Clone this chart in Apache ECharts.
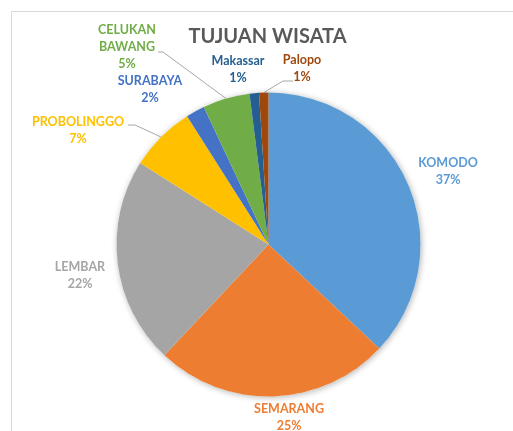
<!DOCTYPE html>
<html>
<head>
<meta charset="utf-8">
<script src="https://cdn.jsdelivr.net/npm/echarts@6/dist/echarts.min.js"></script>
<style>
  html, body { margin: 0; padding: 0; background: #fff; }
  #chart { width: 513px; height: 431px; }
</style>
</head>
<body>
<div id="chart"></div>
<script>
    // data
    var names = ['KOMODO', 'SEMARANG', 'LEMBAR', 'PROBOLINGGO', 'SURABAYA', 'CELUKAN\nBAWANG', 'Makassar', 'Palopo'];
    var values = [37, 25, 22, 7, 2, 5, 1, 1];
    var colors = ['#5B9BD5', '#ED7D31', '#A5A5A5', '#FFC000', '#4472C4', '#70AD47', '#255E91', '#9E480E'];

    // label centres (px) and leader line bends, like the excel layout
    var labelPos = [[448, 171], [289, 417], [80, 275], [78, 130], [150, 89], [127, 47], [238, 69], [302, 68]];
    var linePts = {
        3: [[135, 125], [128, 125]],
        5: [[163, 52], [158, 52]],
        7: [[283, 81], [293, 81]]
    };

    var pieCenter = [268.5, 244.5];
    var pieRadius = 152;

    var myChart = echarts.init(document.getElementById('chart'));

    var pieData = names.map(function (n, i) {
        return {
            name: n,
            value: values[i],
            itemStyle: { color: colors[i] },
            label: { color: colors[i] },
            labelLine: { show: !!linePts[i] }
        };
    });

    myChart.setOption({
        animation: false,
        graphic: [{
            type: 'polyline',
            shape: { points: [[11.5, 440], [11.5, 11.5], [520, 11.5]] },
            style: { stroke: '#D9D9D9', lineWidth: 1, fill: null }
        }, {
            type: 'text',
            x: 267.5,
            y: 37,
            style: {
                text: 'TUJUAN WISATA',
                fill: '#595959',
                font: 'bold 20px Lato',
                textAlign: 'center',
                textVerticalAlign: 'middle'
            }
        }],
        series: [{
            // soft shadow under the whole pie
            type: 'pie',
            silent: true,
            z: 1,
            center: pieCenter,
            radius: pieRadius,
            label: { show: false },
            labelLine: { show: false },
            itemStyle: {
                color: '#fff',
                shadowBlur: 6,
                shadowColor: 'rgba(0,0,0,0.3)',
                shadowOffsetX: 1,
                shadowOffsetY: 1
            },
            data: [1]
        }, {
            type: 'pie',
            z: 2,
            center: pieCenter,
            radius: pieRadius,
            startAngle: 90,
            avoidLabelOverlap: false,
            label: {
                show: true,
                position: 'outside',
                fontFamily: 'Lato',
                fontWeight: 'bold',
                fontSize: 12.5,
                lineHeight: 17,
                align: 'center',
                formatter: function (p) {
                    return p.name + '\n' + p.value + '%';
                }
            },
            labelLine: {
                lineStyle: { color: '#A6A6A6', width: 1 }
            },
            labelLayout: function (params) {
                var i = params.dataIndex;
                var res = {
                    x: labelPos[i][0],
                    y: labelPos[i][1],
                    align: 'center',
                    verticalAlign: 'middle'
                };
                if (linePts[i] && params.labelLinePoints) {
                    res.labelLinePoints = [params.labelLinePoints[0]].concat(linePts[i]);
                }
                return res;
            },
            data: pieData
        }]
    });
</script>
</body>
</html>
